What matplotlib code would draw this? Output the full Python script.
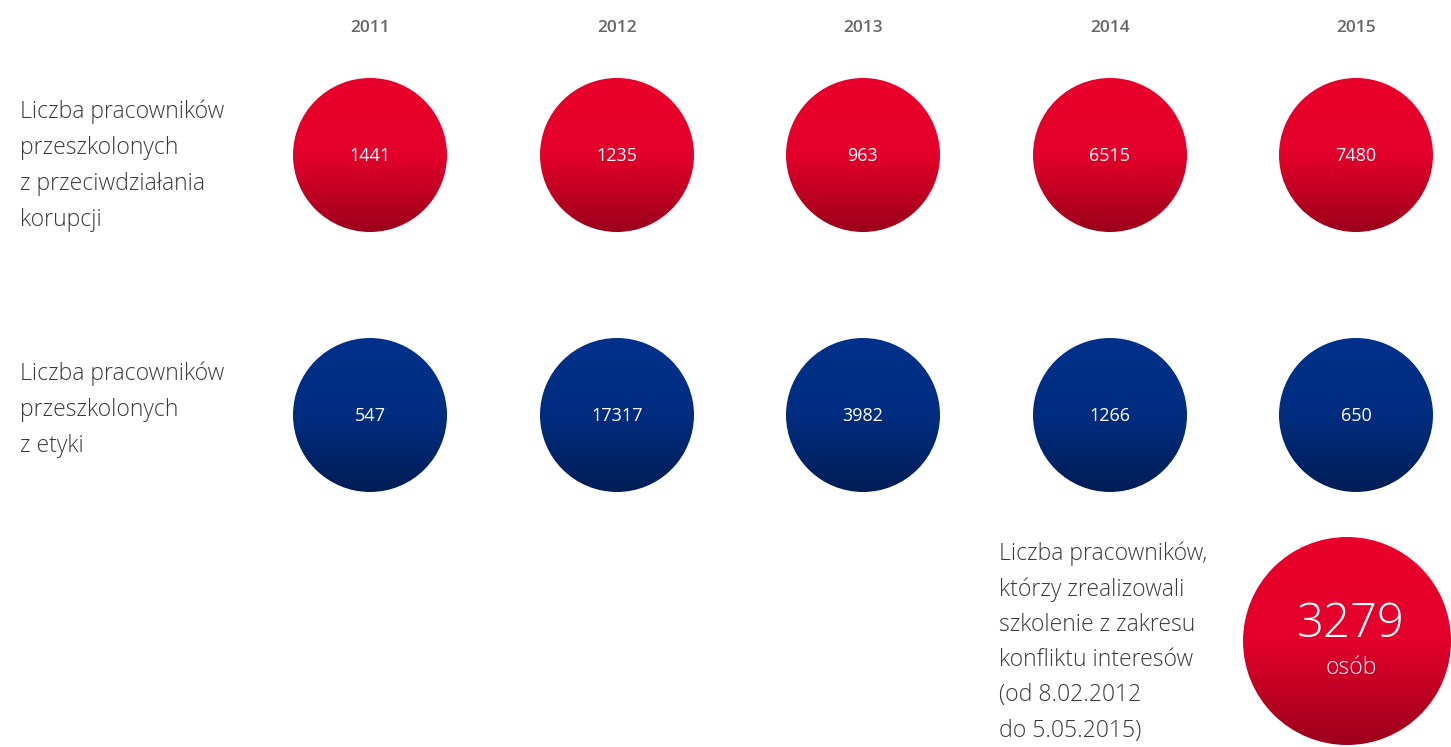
import numpy as np
import matplotlib.pyplot as plt
from matplotlib.patches import Circle
from matplotlib.colors import LinearSegmentedColormap

years = ['2011', '2012', '2013', '2014', '2015']
korupcja = [1441, 1235, 963, 6515, 7480]
etyka = [547, 17317, 3982, 1266, 650]
konflikt_total = 3279

label_korupcja = "Liczba pracowników\nprzeszkolonych\nz przeciwdziałania\nkorupcji"
label_etyka = "Liczba pracowników\nprzeszkolonych\nz etyki"
label_konflikt = ("Liczba pracowników,\nktórzy zrealizowali\nszkolenie z zakresu\n"
                  "konfliktu interesów\n(od 8.02.2012\ndo 5.05.2015)")

plt.rcParams['font.family'] = ['Open Sans', 'DejaVu Sans']

red_cmap = LinearSegmentedColormap.from_list('red', ['#e8002b', '#e3002a', '#9b001b'])
blue_cmap = LinearSegmentedColormap.from_list('blue', ['#00318a', '#002d80', '#001d55'])

W, H = 1451, 747
fig = plt.figure(figsize=(W / 100, H / 100), dpi=100)
ax = fig.add_axes([0, 0, 1, 1])
ax.set_xlim(0, W)
ax.set_ylim(H, 0)
ax.set_aspect('equal')
ax.axis('off')

grad = np.linspace(0, 1, 256).reshape(-1, 1)


def bubble(cx, cy, r, cmap):
    circ = Circle((cx, cy), r, facecolor='none', edgecolor='none')
    ax.add_patch(circ)
    im = ax.imshow(grad, cmap=cmap, extent=(cx - r, cx + r, cy + r, cy - r),
                   aspect='auto', interpolation='bilinear')
    im.set_clip_path(circ)


col_x = [370, 617, 863, 1110, 1356]
r_small = 77
row_red, row_blue = 155, 415

for x, yr in zip(col_x, years):
    ax.text(x, 28, yr, ha='center', va='center', fontsize=12.5,
            fontweight='semibold', color='#666666')

for x, v in zip(col_x, korupcja):
    bubble(x, row_red, r_small, red_cmap)
    ax.text(x, row_red + 1, str(v), ha='center', va='center', fontsize=13, color='white')

for x, v in zip(col_x, etyka):
    bubble(x, row_blue, r_small, blue_cmap)
    ax.text(x, row_blue + 1, str(v), ha='center', va='center', fontsize=13, color='white')

text_kw = dict(ha='left', va='center', fontsize=16.6, fontweight='light',
               color='#3a3a3a', linespacing=1.66)
ax.text(20, 166, label_korupcja, **text_kw)
ax.text(20, 410, label_etyka, **text_kw)
ax.text(999, 642, label_konflikt, **dict(text_kw, linespacing=1.62))

bubble(1347, 641, 104, red_cmap)
ax.text(1351, 625, str(konflikt_total), ha='center', va='center', fontsize=34,
        fontweight='light', color='white')
ax.text(1351, 668, 'osób', ha='center', va='center', fontsize=16.5,
        fontweight='light', color='white')

fig.savefig('out.png', dpi=100)
